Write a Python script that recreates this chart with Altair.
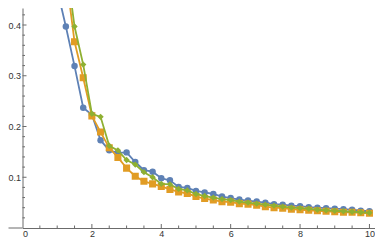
import altair as alt
import pandas as pd

# x positions of the samples
X = [1.0, 1.25, 1.5, 1.75, 2.0, 2.25, 2.5, 2.75, 3.0, 3.25, 3.5, 3.75, 4.0,
     4.25, 4.5, 4.75, 5.0, 5.25, 5.5, 5.75, 6.0, 6.25, 6.5, 6.75, 7.0, 7.25,
     7.5, 7.75, 8.0, 8.25, 8.5, 8.75, 9.0, 9.25, 9.5, 9.75, 10.0]

blue = [0.47, 0.397, 0.319, 0.237, 0.223, 0.173, 0.153, 0.148, 0.149, 0.130,
        0.114, 0.111, 0.098, 0.094, 0.081, 0.079, 0.073, 0.070, 0.067, 0.062,
        0.059, 0.056, 0.054, 0.052, 0.050, 0.047, 0.046, 0.044, 0.043, 0.041,
        0.040, 0.039, 0.038, 0.037, 0.036, 0.034, 0.033]

orange = [0.50, 0.367, 0.296, 0.221, 0.189, 0.158, 0.139, 0.118, 0.102,
          0.092, 0.087, 0.082, 0.076, 0.071, 0.068, 0.062, 0.058, 0.055,
          0.052, 0.051, 0.048, 0.047, 0.045, 0.042, 0.040, 0.039, 0.037,
          0.036, 0.035, 0.034, 0.033, 0.032, 0.031, 0.031, 0.030, 0.029]

green = [0.525, 0.397, 0.322, 0.225, 0.219, 0.162, 0.153, 0.134, 0.125,
         0.110, 0.100, 0.087, 0.086, 0.077, 0.074, 0.067, 0.063, 0.060,
         0.057, 0.055, 0.052, 0.050, 0.048, 0.046, 0.044, 0.042, 0.040,
         0.039, 0.038, 0.036, 0.035, 0.034, 0.033, 0.032, 0.031, 0.030]

x_labels = [0, 2, 4, 6, 8, 10]
x_major = [2, 4, 6, 8, 10]
x_minor = [0.5, 1, 1.5, 2.5, 3, 3.5, 4.5, 5, 5.5, 6.5, 7, 7.5, 8.5, 9, 9.5]
y_major = [0.1, 0.2, 0.3, 0.4]
y_minor = [0.02, 0.04, 0.06, 0.08, 0.12, 0.14, 0.16, 0.18, 0.22, 0.24, 0.26,
           0.28, 0.32, 0.34, 0.36, 0.38, 0.42]

W, H = 352.5, 220
AX = "#6b6b6b"
FONT = "Liberation Sans"

xs = alt.Scale(domain=[0, 10.16], nice=False, zero=False)
ys = alt.Scale(domain=[0, 0.4335], nice=False, zero=False)

x_axis = alt.Axis(
    values=x_labels, title=None, ticks=False, tickSize=0, grid=False,
    domainColor=AX, domainWidth=1, labelFont=FONT, labelFontSize=9,
    labelColor="#333333", labelPadding=1, format="d")
y_axis = alt.Axis(
    values=y_major, title=None, ticks=False, tickSize=0, grid=False,
    domainColor=AX, domainWidth=1, labelFont=FONT, labelFontSize=9,
    labelColor="#333333", labelPadding=2, format=".1f")

series = [
    ("blue", X, blue, "#5E81B5", "circle", 42),
    ("orange", X[1:], orange, "#E19C24", "square", 50),
    ("green", X[1:], green, "#8FB032", "diamond", 40),
]

layers = []

# inward ticks
def xticks(vals, length):
    df = pd.DataFrame({"x": vals})
    return alt.Chart(df).mark_rule(color=AX, strokeWidth=1).encode(
        x=alt.X("x:Q", scale=xs, axis=x_axis),
        y=alt.value(H), y2=alt.value(H - length))

def yticks(vals, length):
    df = pd.DataFrame({"y": vals})
    return alt.Chart(df).mark_rule(color=AX, strokeWidth=1).encode(
        y=alt.Y("y:Q", scale=ys, axis=y_axis),
        x=alt.value(0), x2=alt.value(length))

layers += [xticks(x_major, 4), xticks(x_minor, 2.5),
           yticks(y_major, 4), yticks(y_minor, 2.5)]

# x-axis extension to the left of the y-axis
layers.append(
    alt.Chart(pd.DataFrame({"x": [0.0]})).mark_rule(color=AX, strokeWidth=1).encode(
        x=alt.value(-14), x2=alt.value(0), y=alt.value(H))
)

for name, xv, yv, col, shape, size in series:
    df = pd.DataFrame({"x": xv, "y": yv})
    base = alt.Chart(df).encode(
        x=alt.X("x:Q", scale=xs, axis=x_axis),
        y=alt.Y("y:Q", scale=ys, axis=y_axis))
    layers.append(base.mark_line(color=col, strokeWidth=1.8, clip=True))
    layers.append(base.mark_point(color=col, filled=True, shape=shape,
                                  size=size, opacity=1, clip=True))

chart = alt.layer(*layers).properties(
    width=W, height=H,
    autosize=alt.AutoSizeParams(type="none"),
    padding={"left": 14.5, "top": 0, "right": 0, "bottom": 10},
).configure_view(strokeWidth=0)

chart.save("out.html", embed_options={"renderer": "svg", "actions": False})
